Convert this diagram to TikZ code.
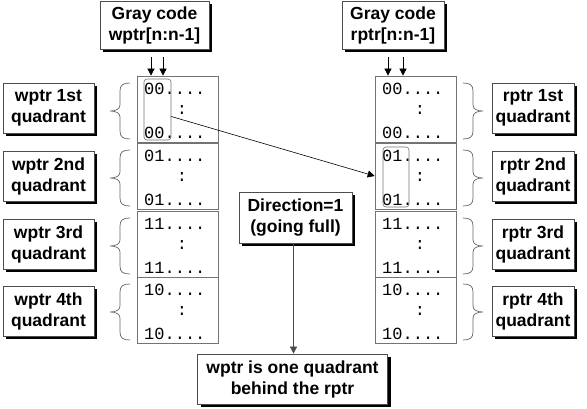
\documentclass[tikz,border=0pt]{standalone}
\usepackage{fontspec}
\usetikzlibrary{shadows,arrows.meta,calc}
\newfontfamily\labfont{Liberation Sans}
\newfontfamily\memfont{Liberation Mono}
\tikzset{
 lbl/.style={draw=black!70, line width=0.7pt, fill=white, align=center, inner sep=0pt,
   font=\labfont\bfseries\fontsize{17.5}{21}\selectfont,
   drop shadow={shadow xshift=3pt, shadow yshift=-3pt, opacity=1, fill=black}},
 mem/.style={draw=black!55, line width=0.7pt, minimum width=81pt, minimum height=66pt, inner sep=0pt},
 mtxt/.style={font=\memfont\fontsize{17}{17}\selectfont, inner sep=0pt, anchor=west},
 ctxt/.style={font=\memfont\fontsize{17}{17}\selectfont, inner sep=0pt},
 hl/.style={draw=black!55, rounded corners=3pt, line width=0.6pt, minimum width=27pt, minimum height=61pt, inner sep=0pt},
 brc/.style={draw=black!60, line width=0.7pt},
 arr/.style={-{Triangle[length=7pt,width=7pt]}, line width=0.6pt},
 lbrace/.pic={\draw[brc] (0,0) .. controls (-7,0) and (-10,2) .. (-10,8) -- (-10,22)
   .. controls (-10,26) and (-14,28) .. (-20,28) .. controls (-14,28) and (-10,30) .. (-10,34)
   -- (-10,48) .. controls (-10,54) and (-7,56) .. (0,56);},
 rbrace/.pic={\draw[brc] (0,0) .. controls (7,0) and (10,2) .. (10,8) -- (10,22)
   .. controls (10,26) and (14,28) .. (20,28) .. controls (14,28) and (10,30) .. (10,34)
   -- (10,48) .. controls (10,54) and (7,56) .. (0,56);},
}
\begin{document}
\begin{tikzpicture}[x=1pt,y=-1pt]
\useasboundingbox (0,0) rectangle (587,409);
% gray code boxes
\node[lbl, minimum width=109pt, minimum height=48pt] (gw) at (154.5,25) {Gray code\\wptr[n:n-1]};
\node[lbl, minimum width=102pt, minimum height=48pt] (gr) at (393,25) {Gray code\\rptr[n:n-1]};
% memory rows
\foreach \i/\y/\c in {1/109/00, 2/176/01, 3/244/11, 4/310/10} {
  \node[mem] (ml\i) at (177.5,\y) {};
  \node[mem] (mr\i) at (415.5,\y) {};
  \node[mtxt] (ml\i a) at (144,\y-20) {\c....};
  \node[ctxt] (ml\i b) at (182,\y+1) {:};
  \node[mtxt] (ml\i c) at (144,\y+24) {\c....};
  \node[mtxt] (mr\i a) at (382,\y-20) {\c....};
  \node[ctxt] (mr\i b) at (420,\y+1) {:};
  \node[mtxt] (mr\i c) at (382,\y+24) {\c....};
  \pic at (130,\y-26) {lbrace};
  \pic at (463,\y-26) {rbrace};
}
% labels
\node[lbl, minimum width=91pt, minimum height=50pt] (lw1) at (48.5,108) {wptr 1st\\quadrant};
\node[lbl, minimum width=91pt, minimum height=50pt] (lw2) at (48.5,176) {wptr 2nd\\quadrant};
\node[lbl, minimum width=91pt, minimum height=50pt] (lw3) at (48.5,244) {wptr 3rd\\quadrant};
\node[lbl, minimum width=91pt, minimum height=50pt] (lw4) at (48.5,311) {wptr 4th\\quadrant};
\node[lbl, minimum width=82pt, minimum height=50pt] (lr1) at (533,108) {rptr 1st\\quadrant};
\node[lbl, minimum width=82pt, minimum height=50pt] (lr2) at (533,176) {rptr 2nd\\quadrant};
\node[lbl, minimum width=82pt, minimum height=50pt] (lr3) at (533,244) {rptr 3rd\\quadrant};
\node[lbl, minimum width=82pt, minimum height=50pt] (lr4) at (533,311) {rptr 4th\\quadrant};
% highlights
\node[hl] (hl1) at (157.5,109.5) {};
\node[hl, minimum width=26pt, minimum height=60pt] (hl2) at (396,177) {};
% direction and result
\node[lbl, minimum width=113pt, minimum height=51pt] (dir) at (295.5,217.5) {Direction=1\\(going full)};
\node[lbl, minimum width=190pt, minimum height=50pt] (res) at (292.5,379) {wptr is one quadrant\\behind the rptr};
% arrows
\coordinate (c1) at (151,57);
\coordinate (c2) at (163,57);
\coordinate (c3) at (388,57);
\coordinate (c4) at (403,57);
\draw[arr] (c1) -- (c1 |- ml1.north);
\draw[arr] (c2) -- (c2 |- ml1.north);
\draw[arr] (c3) -- (c3 |- mr1.north);
\draw[arr] (c4) -- (c4 |- mr1.north);
\draw[arr] ([yshift=-7pt]hl1.east) -- (mr2.west);
\draw[arr, draw=black!70] ([xshift=-2pt]dir.south) -- ([xshift=-2pt]dir.south |- res.north);
\end{tikzpicture}
\end{document}
